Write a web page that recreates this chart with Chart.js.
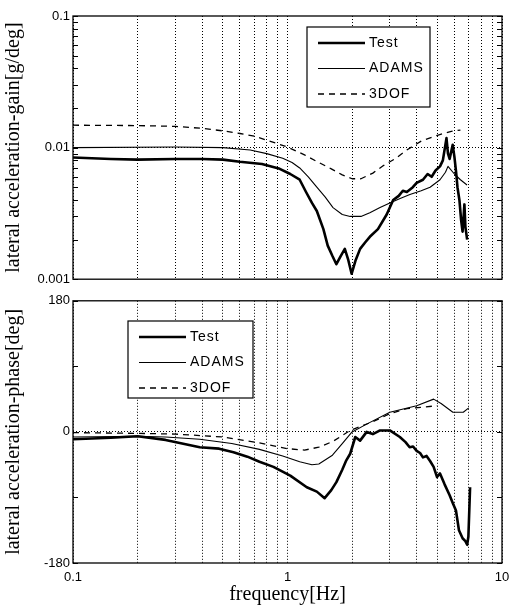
<!DOCTYPE html>
<html>
<head>
<meta charset="utf-8">
<script src="https://cdn.jsdelivr.net/npm/chart.js@4.4.1/dist/chart.umd.min.js"></script>
<style>
  html, body { margin: 0; padding: 0; background: #fff; }
  #wrap { position: relative; width: 517px; height: 607px; }
  .panel { position: absolute; left: 0; }
</style>
</head>
<body>
<div id="wrap">
  <canvas id="gainChart" class="panel" width="517" height="290" style="top:0"></canvas>
  <canvas id="phaseChart" class="panel" width="517" height="317" style="top:290px"></canvas>
</div>
<script>
/* Lateral acceleration frequency response: gain + phase */

const seriesNames = ['Test', 'ADAMS', '3DOF'];

// gain [g/deg]
const testGainFreq = [0.1, 0.15, 0.2, 0.3, 0.4, 0.5, 0.6, 0.76, 0.92, 1.03, 1.14, 1.22, 1.3, 1.37, 1.47, 1.54, 1.62, 1.69, 1.77, 1.85, 1.92, 1.99, 2.08, 2.18, 2.3, 2.42, 2.64, 2.9, 3.11, 3.3, 3.45, 3.6, 3.84, 4.0, 4.28, 4.5, 4.7, 4.9, 5.14, 5.3, 5.51, 5.6, 5.7, 5.89, 6.0, 6.11, 6.2, 6.33, 6.45, 6.55, 6.68, 6.75, 6.88];
const testGain = [0.0084, 0.0082, 0.0081, 0.0082, 0.0082, 0.0081, 0.0078, 0.0075, 0.0069, 0.0063, 0.0057, 0.0046, 0.0038, 0.0033, 0.0024, 0.0018, 0.0015, 0.0013, 0.0015, 0.0017, 0.0014, 0.0011, 0.0014, 0.0017, 0.0019, 0.0021, 0.0024, 0.0031, 0.0040, 0.0043, 0.0047, 0.0046, 0.0050, 0.0054, 0.0057, 0.0063, 0.0060, 0.0067, 0.0072, 0.0080, 0.0118, 0.0090, 0.0082, 0.0105, 0.0085, 0.0065, 0.0050, 0.0040, 0.0028, 0.0023, 0.0037, 0.0025, 0.0020];

const adamsGainFreq = [0.1, 0.3, 0.5, 0.67, 0.8, 0.95, 1.05, 1.14, 1.25, 1.37, 1.5, 1.63, 1.8, 1.96, 2.2, 2.42, 2.7, 3.0, 3.35, 3.72, 4.2, 4.62, 5.14, 5.45, 5.6, 6.0, 6.4, 6.87];
const adamsGain = [0.0100, 0.0101, 0.0100, 0.0096, 0.0090, 0.0083, 0.0077, 0.0070, 0.0060, 0.0050, 0.0042, 0.0035, 0.0031, 0.0030, 0.0030, 0.0032, 0.0035, 0.0038, 0.0041, 0.0044, 0.0047, 0.0050, 0.0057, 0.0065, 0.0072, 0.0063, 0.0057, 0.0052];

const dofGainFreq = [0.1, 0.2, 0.3, 0.4, 0.5, 0.6, 0.7, 0.8, 0.9, 1.0, 1.2, 1.4, 1.6, 1.8, 2.0, 2.2, 2.5, 2.8, 3.2, 3.6, 4.2, 5.0, 5.8, 6.4];
const dofGain = [0.0148, 0.0147, 0.0145, 0.0140, 0.0134, 0.0128, 0.0122, 0.0114, 0.0107, 0.0101, 0.0088, 0.0077, 0.0069, 0.0062, 0.0058, 0.0058, 0.0064, 0.0073, 0.0083, 0.0096, 0.0112, 0.0124, 0.0133, 0.0136];

// phase [deg]
const testPhaseFreq = [0.1, 0.15, 0.2, 0.27, 0.39, 0.48, 0.56, 0.65, 0.74, 0.86, 1.03, 1.23, 1.37, 1.49, 1.6, 1.69, 1.8, 1.88, 1.96, 2.07, 2.18, 2.34, 2.5, 2.7, 3.0, 3.34, 3.55, 3.71, 3.85, 4.0, 4.15, 4.28, 4.45, 4.62, 4.8, 4.98, 5.14, 5.4, 5.7, 5.9, 6.1, 6.3, 6.55, 6.75, 6.88, 6.97, 7.1];
const testPhase = [-10, -8, -6, -11, -21, -23, -28, -34, -41, -48, -60, -76, -82, -91, -80, -69, -52, -39, -30, -7, -12, 0, -3, 2, 2, -7, -14, -21, -20, -26, -29, -35, -33, -40, -48, -62, -57, -72, -87, -98, -108, -135, -146, -150, -155, -144, -76];

const adamsPhaseFreq = [0.1, 0.2, 0.27, 0.39, 0.55, 0.74, 0.95, 1.14, 1.3, 1.4, 1.62, 1.8, 2.0, 2.35, 3.0, 4.0, 4.8, 5.2, 5.9, 6.6, 7.0];
const adamsPhase = [-7, -6, -7, -10, -16, -24, -33, -41, -45, -44, -32, -16, 0, 11, 27, 36, 45, 39, 27, 27, 33];

const dofPhaseFreq = [0.1, 0.2, 0.3, 0.5, 0.74, 1.0, 1.2, 1.4, 1.63, 1.96, 2.5, 3.0, 3.6, 4.3, 5.0];
const dofPhase = [-1, -2, -3, -7, -15, -23, -25, -21, -13, 2, 14, 25, 32, 34, 36];

// ticks
const xTickValues = [0.1, 0.2, 0.3, 0.4, 0.5, 0.6, 0.7, 0.8, 0.9, 1, 2, 3, 4, 5, 6, 7, 8, 9, 10];
const xLabelValues = [0.1, 1, 10];
const xLabelText = ['0.1', '1', '10'];

const gainTickValues = [0.001, 0.002, 0.003, 0.004, 0.005, 0.006, 0.007, 0.008, 0.009, 0.01, 0.02, 0.03, 0.04, 0.05, 0.06, 0.07, 0.08, 0.09, 0.1];
const gainLabelValues = [0.001, 0.01, 0.1];
const gainLabelText = ['0.001', '0.01', '0.1'];

const phaseTickValues = [-180, -90, 0, 90, 180];
const phaseLabelValues = [-180, 0, 180];
const phaseLabelText = ['-180', '0', '180'];

const tickFont = { family: 'Liberation Sans', size: 13 };
const titleFont = { family: 'Liberation Serif', size: 20 };

function toPoints(freq, vals) {
    return freq.map((f, i) => ({ x: f, y: vals[i] }));
}

function makeDatasets(pairs) {
    const styles = [
        { borderWidth: 2.6 },
        { borderWidth: 1.1 },
        { borderWidth: 1.3, borderDash: [6, 5] }
    ];
    return pairs.map((p, i) => Object.assign({
        label: seriesNames[i],
        data: toPoints(p[0], p[1]),
        borderColor: '#000',
        pointRadius: 0,
        tension: 0,
        fill: false,
        borderJoinStyle: 'round'
    }, styles[i]));
}

function labelFor(values, texts) {
    return v => {
        const i = values.indexOf(v);
        return i >= 0 ? texts[i] : '';
    };
}

// frame + inward tick marks on both sides
const frameTicks = {
    id: 'frameTicks',
    afterDraw(chart) {
        const { ctx, chartArea: a, scales } = chart;
        const y = scales.y;
        ctx.save();
        ctx.strokeStyle = '#000';
        ctx.lineWidth = 1.3;
        ctx.strokeRect(a.left, a.top, a.right - a.left, a.bottom - a.top);
        ctx.lineWidth = 1;
        ctx.beginPath();
        y.ticks.forEach(t => {
            const py = Math.round(y.getPixelForValue(t.value)) + 0.5;
            ctx.moveTo(a.left, py); ctx.lineTo(a.left + 5, py);
            ctx.moveTo(a.right, py); ctx.lineTo(a.right - 5, py);
        });
        ctx.stroke();
        ctx.restore();
    }
};

// legend box drawn inside the plot
const boxLegend = {
    id: 'boxLegend',
    afterDraw(chart, args, opts) {
        const ctx = chart.ctx;
        ctx.save();
        ctx.fillStyle = '#fff';
        ctx.fillRect(opts.x, opts.y, opts.w, opts.h);
        ctx.strokeStyle = '#000';
        ctx.lineWidth = 1.2;
        ctx.strokeRect(opts.x, opts.y, opts.w, opts.h);
        ctx.font = '14px "Liberation Sans"';
        ctx.letterSpacing = '1px';
        ctx.textBaseline = 'middle';
        ctx.fillStyle = '#000';
        chart.data.datasets.forEach((ds, i) => {
            const ry = opts.y + 16 + i * 25.5;
            ctx.beginPath();
            ctx.lineWidth = ds.borderWidth;
            ctx.setLineDash(ds.borderDash || []);
            ctx.moveTo(opts.x + 11, ry);
            ctx.lineTo(opts.x + 58, ry);
            ctx.stroke();
            ctx.setLineDash([]);
            ctx.fillText(ds.label, opts.x + 62, ry);
        });
        ctx.restore();
    }
};

function xScale(showLabels, height) {
    return {
        type: 'logarithmic',
        min: 0.1,
        max: 10,
        afterBuildTicks: s => { s.ticks = xTickValues.map(v => ({ value: v })); },
        afterFit: s => { s.height = height; },
        ticks: {
            display: showLabels,
            autoSkip: false,
            maxRotation: 0,
            padding: 7,
            color: '#000',
            font: tickFont,
            callback: labelFor(xLabelValues, xLabelText)
        },
        grid: { color: '#000', lineWidth: 1, drawTicks: false },
        border: { display: false, dash: [1, 2] },
        title: {
            display: showLabels,
            text: 'frequency[Hz]',
            color: '#000',
            font: titleFont,
            padding: { top: 0, bottom: 0 }
        }
    };
}

function yScale(opts) {
    return Object.assign({
        afterBuildTicks: s => { s.ticks = opts.tickValues.map(v => ({ value: v })); },
        afterFit: s => { s.width = 73; },
        ticks: {
            autoSkip: false,
            padding: 3,
            color: '#000',
            font: tickFont,
            callback: labelFor(opts.labelValues, opts.labelText)
        },
        grid: {
            drawTicks: false,
            lineWidth: 1,
            color: c => (c.tick && c.tick.value === opts.gridAt) ? '#000' : 'rgba(0,0,0,0)'
        },
        border: { display: false, dash: [1, 2] },
        title: {
            display: true,
            text: opts.title,
            color: '#000',
            font: titleFont,
            padding: { top: 2, bottom: 0 }
        }
    }, opts.range);
}

new Chart(document.getElementById('gainChart'), {
    type: 'line',
    data: {
        datasets: makeDatasets([
            [testGainFreq, testGain],
            [adamsGainFreq, adamsGain],
            [dofGainFreq, dofGain]
        ])
    },
    options: {
        responsive: false,
        animation: false,
        layout: { padding: { left: 0, right: 15, top: 16, bottom: 0 } },
        plugins: {
            legend: { display: false },
            tooltip: { enabled: false },
            boxLegend: { x: 307, y: 27, w: 123, h: 80 }
        },
        scales: {
            x: xScale(false, 7),
            y: yScale({
                range: { type: 'logarithmic', min: 0.001, max: 0.1 },
                tickValues: gainTickValues,
                labelValues: gainLabelValues,
                labelText: gainLabelText,
                gridAt: 0.01,
                title: 'lateral acceleration-gain[g/deg]'
            })
        }
    },
    plugins: [frameTicks, boxLegend]
});

new Chart(document.getElementById('phaseChart'), {
    type: 'line',
    data: {
        datasets: makeDatasets([
            [testPhaseFreq, testPhase],
            [adamsPhaseFreq, adamsPhase],
            [dofPhaseFreq, dofPhase]
        ])
    },
    options: {
        responsive: false,
        animation: false,
        layout: { padding: { left: 0, right: 15, top: 10, bottom: 0 } },
        plugins: {
            legend: { display: false },
            tooltip: { enabled: false },
            boxLegend: { x: 128, y: 31, w: 125, h: 77 }
        },
        scales: {
            x: xScale(true, 44),
            y: yScale({
                range: { type: 'linear', min: -180, max: 180 },
                tickValues: phaseTickValues,
                labelValues: phaseLabelValues,
                labelText: phaseLabelText,
                gridAt: 0,
                title: 'lateral acceleration-phase[deg]'
            })
        }
    },
    plugins: [frameTicks, boxLegend]
});
</script>
</body>
</html>
